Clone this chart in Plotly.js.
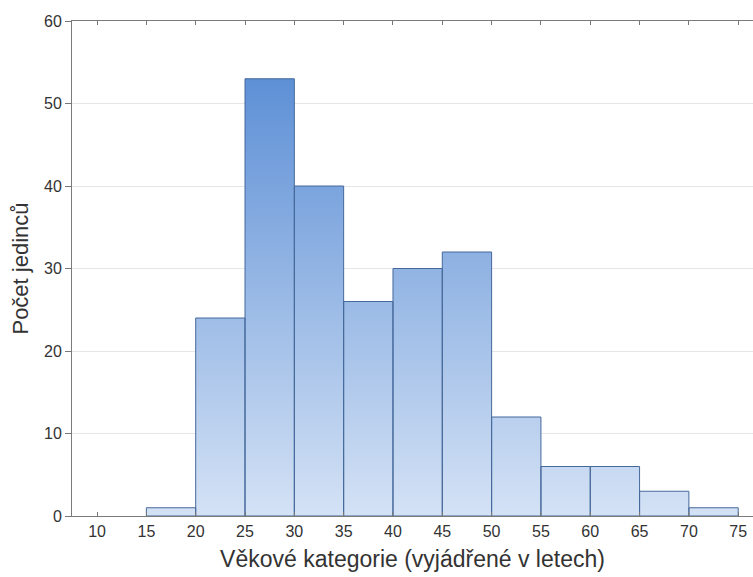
<!DOCTYPE html>
<html>
<head>
<meta charset="utf-8">
<script src="https://cdn.plot.ly/plotly-3.0.1.min.js"></script>
<style>html,body{margin:0;padding:0;background:#fff;overflow:hidden}</style>
</head>
<body>
<div id="chart" style="width:753px;height:577px"></div>
<script>
// Bin edges (age categories) and counts
const binStarts = [10, 15, 20, 25, 30, 35, 40, 45, 50, 55, 60, 65, 70];
const binWidth = 5;
const counts = [0, 1, 24, 53, 40, 26, 30, 32, 12, 6, 6, 3, 1];
const tickValues = [10, 15, 20, 25, 30, 35, 40, 45, 50, 55, 60, 65, 70, 75];
const yTicks = [0, 10, 20, 30, 40, 50, 60];
const xTitle = 'Věkové kategorie (vyjádřené v letech)';
const yTitle = 'Počet jedinců';

// Build one closed polygon per bin (separated by gaps)
const px = [], py = [];
binStarts.forEach((s, i) => {
  if (counts[i] <= 0) return;
  const e = s + binWidth, c = counts[i];
  px.push(s, s, e, e, s, null);
  py.push(0, c, c, 0, 0, null);
});

const trace = {
  type: 'scatter',
  mode: 'lines',
  x: px,
  y: py,
  fill: 'toself',
  connectgaps: false,
  line: {color: '#45699b', width: 1},
  fillgradient: {
    type: 'vertical',
    start: 0,
    stop: 53,
    colorscale: [[0, '#d4e2f5'], [1, '#5e90d6']]
  },
  hoverinfo: 'skip',
  showlegend: false
};

const fam = '"Liberation Sans", Arial, sans-serif';

const layout = {
  width: 753,
  height: 577,
  margin: {l: 72, r: 0, t: 21, b: 61},
  paper_bgcolor: '#ffffff',
  plot_bgcolor: '#ffffff',
  font: {family: fam, color: '#333333'},
  showlegend: false,
  xaxis: {
    range: [7.46, 76.5],
    tickvals: tickValues,
    ticktext: tickValues.map(String),
    ticks: 'inside',
    ticklen: 4,
    tickcolor: '#777777',
    showline: true,
    linecolor: '#7a7a7a',
    linewidth: 1,
    mirror: 'ticks',
    showgrid: false,
    zeroline: false,
    ticklabelstandoff: 1,
    tickfont: {size: 16, family: fam, color: '#333333'},
    title: {text: xTitle, font: {size: 23, family: fam, color: '#333333'}, standoff: 11}
  },
  yaxis: {
    range: [0, 60],
    tickvals: yTicks,
    ticks: 'outside',
    ticklen: 6,
    tickcolor: '#777777',
    showline: true,
    linecolor: '#7a7a7a',
    linewidth: 1,
    showgrid: true,
    gridcolor: '#e6e6e6',
    zeroline: false,
    tickfont: {size: 16, family: fam, color: '#333333'},
    title: {text: yTitle, font: {size: 22, family: fam, color: '#333333'}, standoff: 9}
  }
};

Plotly.newPlot('chart', [trace], layout, {displayModeBar: false, staticPlot: true});
</script>
</body>
</html>
